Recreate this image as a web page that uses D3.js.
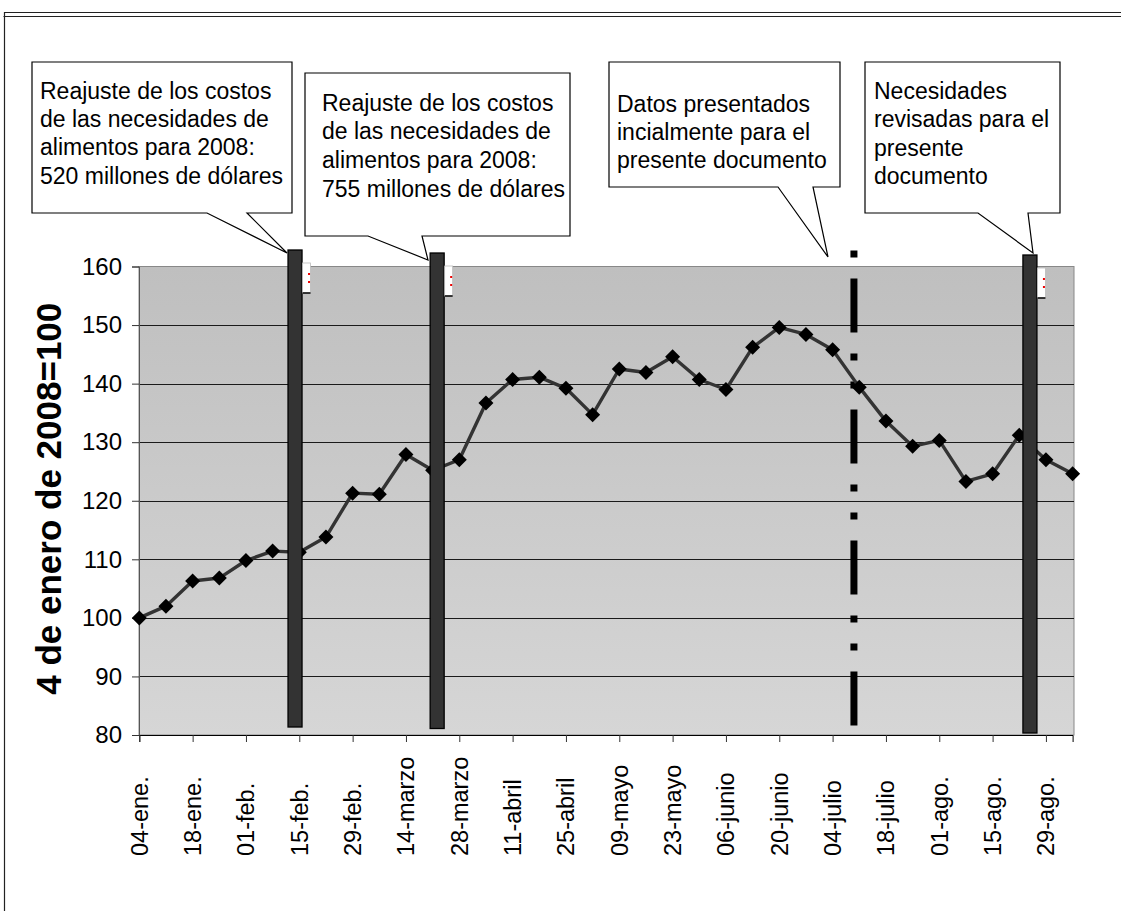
<!DOCTYPE html>
<html>
<head>
<meta charset="utf-8">
<script src="https://cdn.jsdelivr.net/npm/d3@7"></script>
<style>
  html, body { margin: 0; padding: 0; background: #fff; }
  svg { display: block; font-family: "Liberation Sans", Arial, sans-serif; }
</style>
</head>
<body>
<svg id="chart" width="1121" height="911"></svg>
<script>
// ---- data ----
const categories = [
  "04-ene.","11-ene.","18-ene.","25-ene.","01-feb.","08-feb.","15-feb.","22-feb.","29-feb.",
  "07-marzo","14-marzo","21-marzo","28-marzo","04-abril","11-abril","18-abril","25-abril",
  "02-mayo","09-mayo","16-mayo","23-mayo","30-mayo","06-junio","13-junio","20-junio","27-junio",
  "04-julio","11-julio","18-julio","25-julio","01-ago.","08-ago.","15-ago.","22-ago.","29-ago.","05-sept."
];
const values = [
  100.0, 102.0, 106.3, 106.8, 109.8, 111.4, 111.2, 113.8, 121.3,
  121.1, 127.9, 125.2, 127.0, 136.7, 140.7, 141.1, 139.2,
  134.7, 142.5, 141.9, 144.6, 140.7, 139.0, 146.2, 149.6, 148.4,
  145.8, 139.4, 133.6, 129.3, 130.3, 123.3, 124.6, 131.2, 127.0, 124.6
];
const yTicks = [80, 90, 100, 110, 120, 130, 140, 150, 160];
const yTitle = "4 de enero de 2008=100";
// event markers: fractional category position
const eventPos = [5.84, 11.17, 26.8, 33.4];
const eventKind = ["bar", "bar", "dashdot", "bar"];
const calloutText = [
  ["Reajuste de los costos", "de las necesidades de", "alimentos para 2008:", "520 millones de dólares"],
  ["Reajuste de los costos", "de las necesidades de", "alimentos para 2008:", "755 millones de dólares"],
  ["Datos presentados", "incialmente para el", "presente documento"],
  ["Necesidades", "revisadas para el", "presente", "documento"]
];

// ---- layout ----
const svg = d3.select("#chart");
const plot = { left: 139, right: 1074, top: 266.5, bottom: 735 };

const x = d3.scaleLinear().domain([0, categories.length - 1]).range([139.3, 1072.6]);
const y = d3.scaleLinear().domain([80, 160]).range([plot.bottom, plot.top]);

// outer chart frame
svg.append("line").attr("x1", 4).attr("x2", 1121).attr("y1", 12.5).attr("y2", 12.5).attr("stroke", "#222").attr("stroke-width", 1.2);
svg.append("line").attr("x1", 3.5).attr("x2", 1121).attr("y1", 16.5).attr("y2", 16.5).attr("stroke", "#222").attr("stroke-width", 1.2);
svg.append("line").attr("x1", 4.5).attr("x2", 4.5).attr("y1", 12).attr("y2", 911).attr("stroke", "#222").attr("stroke-width", 1.2);

// background gradient
const defs = svg.append("defs");
const grad = defs.append("linearGradient").attr("id", "bg").attr("x1", 0).attr("x2", 0).attr("y1", 0).attr("y2", 1);
grad.append("stop").attr("offset", "0%").attr("stop-color", "#bfbfbf");
grad.append("stop").attr("offset", "100%").attr("stop-color", "#d6d6d6");

svg.append("rect")
  .attr("x", plot.left).attr("y", plot.top)
  .attr("width", plot.right - plot.left).attr("height", plot.bottom - plot.top)
  .attr("fill", "url(#bg)").attr("stroke", "#888").attr("stroke-width", 1);

// gridlines
svg.append("g").selectAll("line").data(yTicks.filter(d => d > 80 && d < 160)).join("line")
  .attr("x1", plot.left).attr("x2", plot.right)
  .attr("y1", d => Math.round(y(d)) + 0.5).attr("y2", d => Math.round(y(d)) + 0.5)
  .attr("stroke", "#1a1a1a").attr("stroke-width", 1);

// y axis
const yAxis = d3.axisLeft(y).tickValues(yTicks).tickSize(7).tickPadding(10).tickFormat(d3.format("d"));
const gy = svg.append("g").attr("transform", `translate(${plot.left},0)`).call(yAxis);
gy.select(".domain").attr("stroke", "#555");
gy.selectAll(".tick line").attr("stroke", "#333");
gy.selectAll("text").attr("font-size", 24).attr("fill", "#000").attr("font-family", "Liberation Sans, Arial, sans-serif");

// x axis
const tickIdx = d3.range(0, categories.length, 2).filter(i => i <= 34);
const xAxis = d3.axisBottom(x).tickValues(tickIdx).tickSize(7).tickFormat(i => categories[i]);
const gx = svg.append("g").attr("transform", `translate(0,${plot.bottom})`).call(xAxis);
gx.select(".domain").attr("stroke", "#000");
gx.selectAll(".tick line").attr("stroke", "#333");
gx.selectAll("text")
  .attr("font-size", 23.5).attr("fill", "#000")
  .attr("font-family", "Liberation Sans, Arial, sans-serif")
  .attr("text-anchor", "start")
  .attr("dy", null)
  .attr("transform", "translate(8,121) rotate(-90)")
  .attr("x", 0).attr("y", 0);

// y title
svg.append("text")
  .attr("transform", `translate(61,${(plot.top + plot.bottom) / 2 - 2}) rotate(-90)`)
  .attr("text-anchor", "middle")
  .attr("font-size", 35).attr("font-weight", "bold")
  .text(yTitle);

// dash-dot event line (below series)
eventPos.forEach((p, i) => {
  if (eventKind[i] !== "dashdot") return;
  svg.append("line")
    .attr("x1", x(p)).attr("x2", x(p))
    .attr("y1", 250.5).attr("y2", 728)
    .attr("stroke", "#000").attr("stroke-width", 7)
    .attr("stroke-dasharray", "7,21,54,21,7,21");
});

// series line
const line = d3.line().x((d, i) => x(i)).y(d => y(d));
svg.append("path").datum(values)
  .attr("d", line).attr("fill", "none")
  .attr("stroke", "#333").attr("stroke-width", 3.4).attr("stroke-linejoin", "round");

// markers
svg.append("g").selectAll("path").data(values).join("path")
  .attr("transform", (d, i) => `translate(${x(i)},${y(d)})`)
  .attr("d", "M0,-7.5L7.5,0L0,7.5L-7.5,0Z")
  .attr("fill", "#000");

// vertical bars (above series)
const barTops = [250, 253, 250, 255];
const barBottoms = [727, 728.5, 728, 733];
eventPos.forEach((p, i) => {
  if (eventKind[i] !== "bar") return;
  const cx = x(p);
  svg.append("rect")
    .attr("x", cx - 7).attr("y", barTops[i])
    .attr("width", 14).attr("height", barBottoms[i] - barTops[i])
    .attr("fill", "#333").attr("stroke", "#000").attr("stroke-width", 1.3);
  // small white tag with red dots
  const tx = cx + 7.5, ty = barTops[i] + 13;
  svg.append("rect").attr("x", tx).attr("y", ty).attr("width", 8).attr("height", 30)
    .attr("fill", "#fff").attr("stroke", "#bbb").attr("stroke-width", 0.8);
  svg.append("line").attr("x1", tx).attr("x2", tx + 8).attr("y1", ty + 30).attr("y2", ty + 30)
    .attr("stroke", "#000").attr("stroke-width", 1.5);
  [10, 18].forEach(o => svg.append("rect").attr("x", tx + 5.5).attr("y", ty + o)
    .attr("width", 2).attr("height", 2).attr("fill", "#e00"));
});

// callouts
const boxes = [
  { x0: 32, y0: 62, x1: 292, y1: 213, bl: 207, br: 247, tx: 287, ty: 253, textX: 40, lineY: [99, 127, 155, 184] },
  { x0: 305, y0: 73, x1: 570, y1: 236, bl: 368, br: 422, tx: 428, ty: 260, textX: 322, lineY: [111, 139, 168, 197] },
  { x0: 609, y0: 62, x1: 840, y1: 187, bl: 778, br: 813, tx: 828, ty: 257, textX: 617, lineY: [112, 140, 168] },
  { x0: 865, y0: 62, x1: 1060, y1: 213, bl: 978, br: 1028, tx: 1033, ty: 253, textX: 874, lineY: [99, 127, 156, 184] }
];
boxes.forEach((b, i) => {
  const d = `M${b.x0},${b.y0}L${b.x1},${b.y0}L${b.x1},${b.y1}L${b.br},${b.y1}L${b.tx},${b.ty}L${b.bl},${b.y1}L${b.x0},${b.y1}Z`;
  svg.append("path").attr("d", d).attr("fill", "#fff").attr("stroke", "#000").attr("stroke-width", 1.2);
  calloutText[i].forEach((t, j) => {
    svg.append("text").attr("x", b.textX).attr("y", b.lineY[j])
      .attr("font-size", 23).attr("fill", "#000").text(t);
  });
});
</script>
</body>
</html>
